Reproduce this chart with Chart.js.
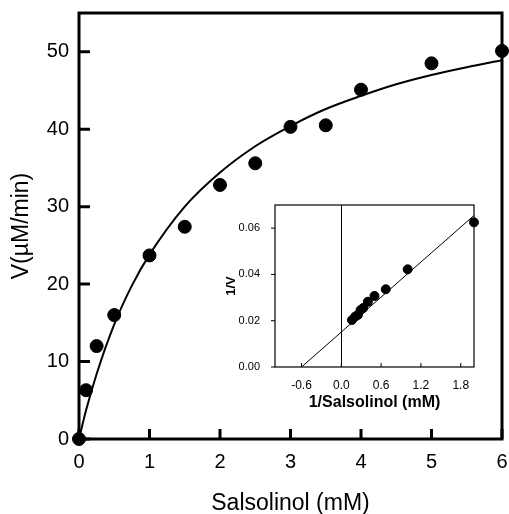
<!DOCTYPE html>
<html>
<head>
<meta charset="utf-8">
<script src="https://cdn.jsdelivr.net/npm/chart.js@4/dist/chart.umd.min.js"></script>
<style>
  html, body { margin: 0; padding: 0; background: #fff; }
  #wrap { position: relative; width: 509px; height: 514px; }
  #mainChart { position: absolute; left: 0; top: 0; }
  #insetChart { position: absolute; left: 220px; top: 195px; }
</style>
</head>
<body>
<div id="wrap">
  <canvas id="mainChart" width="509" height="514"></canvas>
  <canvas id="insetChart" width="270" height="220"></canvas>
</div>
<script>
// ─── Data: velocity vs salsolinol ───
const conc = [0, 0.1, 0.25, 0.5, 1, 1.5, 2, 2.5, 3, 3.5, 4, 5, 6];
const velocity = [0, 6.3, 12.0, 16.0, 23.7, 27.4, 32.8, 35.6, 40.3, 40.5, 45.1, 48.5, 50.1];

// fitted curve
const curveX = [0, 0.1, 0.25, 0.5, 0.75, 1, 1.5, 2, 2.5, 3, 3.5, 4, 4.5, 5, 5.5, 6];
const curveY = [0, 3.7, 8.4, 14.8, 19.8, 23.8, 30.0, 34.4, 37.8, 40.4, 42.6, 44.3, 45.8, 47.0, 48.0, 48.9];

const mainXTicks = [0, 1, 2, 3, 4, 5, 6];
const mainYTicks = [0, 10, 20, 30, 40, 50];

// ─── Data: double reciprocal inset ───
const invConc = [2.0, 1.0, 0.67, 0.5, 0.4, 0.33, 0.29, 0.25, 0.21, 0.16];
const invVel = [0.0625, 0.0422, 0.0336, 0.0307, 0.0282, 0.0255, 0.0246, 0.0225, 0.0218, 0.0203];
const fitX = [-0.6, 2.0];
const fitY = [0, 0.0655];

const insetXTicks = [-0.6, 0.0, 0.6, 1.2, 1.8];
const insetYTicks = [0, 0.02, 0.04, 0.06];

const FONT = "'Liberation Sans', Arial, Helvetica, sans-serif";

const toXY = (xs, ys) => xs.map((x, i) => ({ x, y: ys[i] }));
const fixTicks = vals => scale => { scale.ticks = vals.map(v => ({ value: v })); };
// pin axis box sizes so the plot area lands where the reference has it
const fitX_ = h => s => { s.height = h; s.paddingLeft = 0; s.paddingRight = 0; };
const fitY_ = w => s => { s.width = w; s.paddingTop = 0; s.paddingBottom = 0; };
const noGrid = { display: false, drawTicks: false };

// frame + tick marks drawn from the chart's own scales
const frameTicks = {
    id: 'frameTicks',
    beforeDatasetsDraw(chart, args, o) {
        const { ctx, chartArea: a, scales } = chart;
        ctx.save();
        ctx.strokeStyle = '#000';
        if (o.zeroLine) {
            ctx.lineWidth = 1;
            const px = Math.round(scales.x.getPixelForValue(0)) + 0.5;
            ctx.beginPath();
            ctx.moveTo(px, a.top);
            ctx.lineTo(px, a.bottom);
            ctx.stroke();
        }
        ctx.lineWidth = o.tickWidth;
        ctx.beginPath();
        scales.x.ticks.forEach(t => {
            const px = scales.x.getPixelForValue(t.value);
            ctx.moveTo(px, a.bottom);
            ctx.lineTo(px, a.bottom + o.xTick);
        });
        scales.y.ticks.forEach(t => {
            const py = scales.y.getPixelForValue(t.value);
            ctx.moveTo(a.left, py);
            ctx.lineTo(a.left + o.yTick, py);
        });
        ctx.stroke();
        ctx.lineWidth = o.frameWidth;
        ctx.strokeRect(a.left, a.top, a.right - a.left, a.bottom - a.top);
        ctx.restore();
    }
};

// ─── Main chart ───
new Chart(document.getElementById('mainChart'), {
    type: 'scatter',
    data: {
        datasets: [
            {
                type: 'line',
                data: toXY(curveX, curveY),
                borderColor: '#000',
                borderWidth: 2,
                pointRadius: 0,
                cubicInterpolationMode: 'monotone',
                fill: false
            },
            {
                data: toXY(conc, velocity),
                backgroundColor: '#000',
                borderColor: '#000',
                pointRadius: 6.5,
                clip: false
            }
        ]
    },
    options: {
        responsive: false,
        animation: false,
        devicePixelRatio: 1,
        layout: { autoPadding: false, padding: { top: 13, right: 7, left: 0, bottom: 0 } },
        plugins: { legend: { display: false }, tooltip: { enabled: false },
            frameTicks: { frameWidth: 3, tickWidth: 3, xTick: -10, yTick: 11 } },
        scales: {
            x: {
                type: 'linear', min: 0, max: 6,
                afterBuildTicks: fixTicks(mainXTicks),
                afterFit: fitX_(75),
                grid: noGrid, border: { display: false },
                ticks: { color: '#000', padding: 11, font: { family: FONT, size: 20 } },
                title: { display: true, text: 'Salsolinol (mM)', color: '#000',
                    font: { family: FONT, size: 23 }, padding: { top: 0, bottom: -3 } }
            },
            y: {
                type: 'linear', min: 0, max: 55,
                afterBuildTicks: fixTicks(mainYTicks),
                afterFit: fitY_(79),
                grid: noGrid, border: { display: false },
                ticks: { color: '#000', padding: 10, font: { family: FONT, size: 20 } },
                title: { display: true, text: 'V(µM/min)', color: '#000',
                    font: { family: FONT, size: 23 }, padding: { top: 8, bottom: 0 } }
            }
        }
    },
    plugins: [frameTicks]
});

// ─── Inset: 1/V vs 1/S ───
new Chart(document.getElementById('insetChart'), {
    type: 'scatter',
    data: {
        datasets: [
            {
                type: 'line',
                data: toXY(fitX, fitY),
                borderColor: '#000',
                borderWidth: 1,
                pointRadius: 0,
                fill: false
            },
            {
                data: toXY(invConc, invVel),
                backgroundColor: '#000',
                borderColor: '#000',
                pointRadius: 4.5,
                clip: false
            }
        ]
    },
    options: {
        responsive: false,
        animation: false,
        devicePixelRatio: 1,
        layout: { autoPadding: false, padding: { top: 10, right: 16, left: 0, bottom: 0 } },
        plugins: { legend: { display: false }, tooltip: { enabled: false },
            frameTicks: { frameWidth: 1.2, tickWidth: 1, xTick: -4, yTick: -4, zeroLine: true } },
        scales: {
            x: {
                type: 'linear', min: -1, max: 2,
                afterBuildTicks: fixTicks(insetXTicks),
                afterFit: fitX_(48),
                grid: noGrid, border: { display: false },
                ticks: { color: '#000', padding: 11, font: { family: FONT, size: 12 },
                    callback: v => v.toFixed(1) },
                title: { display: true, text: '1/Salsolinol (mM)', color: '#000',
                    font: { family: FONT, size: 16, weight: 'bold' }, padding: { top: 0, bottom: 3 } }
            },
            y: {
                type: 'linear', min: 0, max: 0.07,
                afterBuildTicks: fixTicks(insetYTicks),
                afterFit: fitY_(55),
                grid: noGrid, border: { display: false },
                ticks: { color: '#000', padding: 15, font: { family: FONT, size: 11 },
                    callback: v => v.toFixed(2) },
                title: { display: true, text: '1/V', color: '#000',
                    font: { family: FONT, size: 13, weight: 'bold' }, padding: { top: 4, bottom: 0 } }
            }
        }
    },
    plugins: [frameTicks]
});
</script>
</body>
</html>
